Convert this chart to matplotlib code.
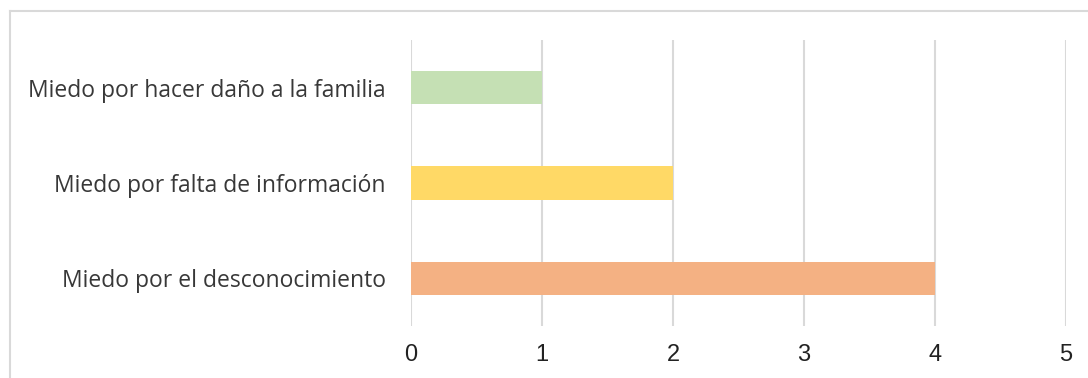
import matplotlib
matplotlib.use("Agg")
import matplotlib.pyplot as plt
from matplotlib.lines import Line2D

# Datos (de abajo hacia arriba)
categorias = ["Miedo por el desconocimiento",
              "Miedo por falta de información",
              "Miedo por hacer daño a la familia"]
valores = [4, 2, 1]
colores = ["#F4B183", "#FFD966", "#C5E0B4"]
ticks_x = [0, 1, 2, 3, 4, 5]

fig = plt.figure(figsize=(10.88, 3.78), dpi=100)
ax = fig.add_axes([411 / 1088, 52 / 378, 655 / 1088, 286 / 378])

posiciones = list(range(len(categorias)))
ax.barh(posiciones, valores, height=0.35, color=colores, zorder=3)

ax.set_xlim(0, 5)
ax.set_ylim(-0.5, 2.5)
ax.set_xticks(ticks_x)
ax.set_xticklabels([str(t) for t in ticks_x], fontsize=17, family="Liberation Sans", color="#222222")
ax.set_yticks(posiciones)
ax.set_yticklabels(categorias, fontsize=16.5, family="Open Sans", fontweight="normal", color="#383838")
ax.tick_params(axis="x", length=0, pad=13)
ax.tick_params(axis="y", length=0, pad=18)

# Cuadrícula vertical
ax.grid(axis="x", color="#D9D9D9", linewidth=1.5, zorder=0)
ax.set_axisbelow(True)
for s in ax.spines.values():
    s.set_visible(False)

# Marco del gráfico (solo arriba e izquierda visibles)
fig.add_artist(Line2D([9.5 / 1088, 9.5 / 1088], [0, 1 - 11 / 378], color="#D9D9D9", linewidth=1.5))
fig.add_artist(Line2D([9.5 / 1088, 1], [1 - 11 / 378, 1 - 11 / 378], color="#D9D9D9", linewidth=1.5))

fig.savefig("out.png", dpi=100)
